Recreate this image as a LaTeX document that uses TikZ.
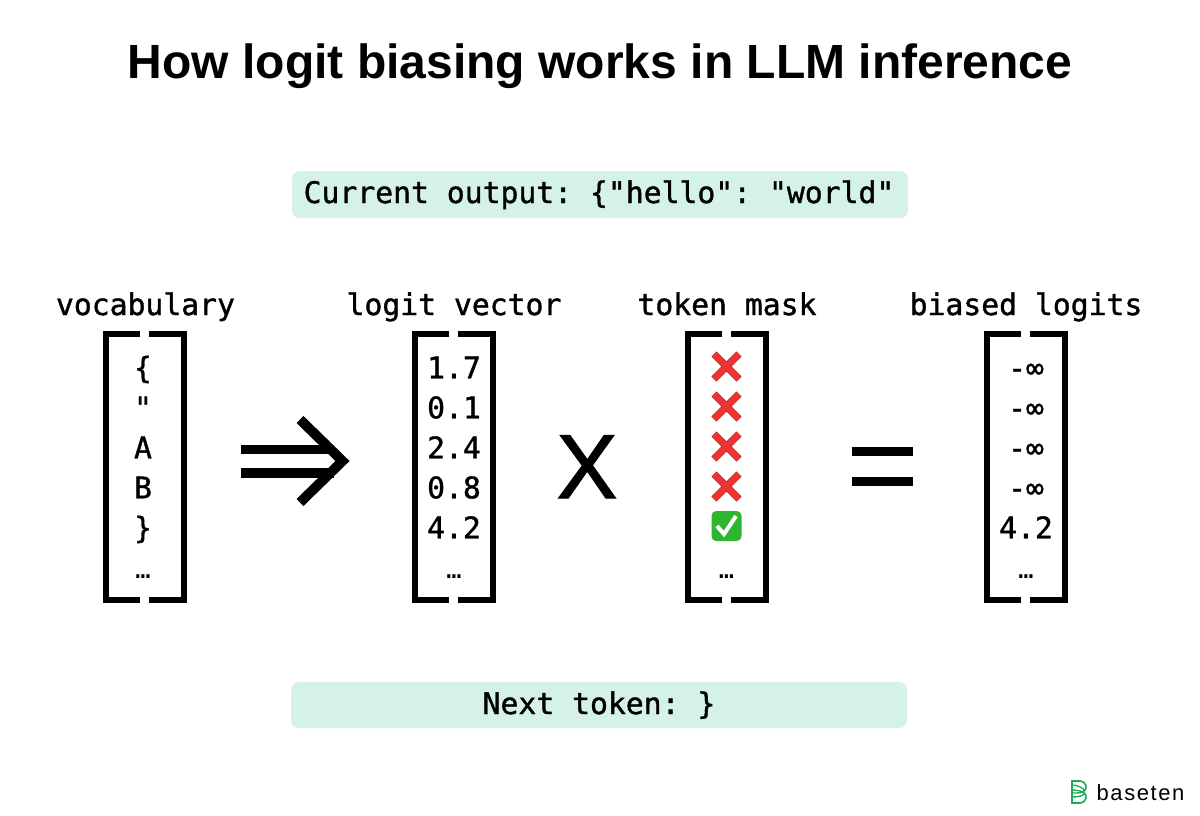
\documentclass[tikz,border=0pt]{standalone}
\usepackage{fontspec}
\setmainfont{Liberation Sans}
\newfontfamily\codefont{DejaVu Sans Mono}[FakeBold=1.2]
\newfontfamily\dotsfont{DejaVu Sans Mono}
\newfontfamily\timesfont{Liberation Sans}[FakeBold=1.5]
\newfontfamily\logofont{Liberation Sans}[LetterSpace=7]
\definecolor{mint}{HTML}{D5F2E6}
\definecolor{xred}{HTML}{F23232}
\definecolor{xdark}{HTML}{D42A2A}
\definecolor{okgreen}{HTML}{2FB52F}
\definecolor{logogreen}{HTML}{1FA855}
\tikzset{
  x=0.75pt,y=-0.75pt,
  code/.style={font=\frenchspacing\codefont\fontsize{22.3pt}{24pt}\selectfont,anchor=base,inner sep=0pt,text=black},
  dotrow/.style={font=\dotsfont\fontsize{19pt}{21pt}\selectfont,anchor=base,inner sep=0pt,text=black},
  band/.style={fill=mint,rounded corners=6pt,draw=none},
  bracketline/.style={draw=black,line width=4.5pt,line cap=butt,line join=miter},
  heavy/.style={draw=black,line width=7pt,line cap=butt,line join=miter},
}
\newcommand{\mybrackets}[1]{%
  \draw[bracketline] ({#1+37},334) -- ({#1+3},334) -- ({#1+3},600) -- ({#1+37},600);
  \draw[bracketline] ({#1+46},334) -- ({#1+81},334) -- ({#1+81},600) -- ({#1+46},600);
}
\newcommand{\crossmark}[2]{%
  \draw[xdark,line width=5.4pt,line cap=butt] ({#1-12.5},{#2-12.5}) -- ({#1+12.5},{#2+12.5}) ({#1-12.5},{#2+12.5}) -- ({#1+12.5},{#2-12.5});
  \draw[xred,line width=4.2pt,line cap=butt] ({#1-12.5},{#2-12.5}) -- ({#1+12.5},{#2+12.5}) ({#1-12.5},{#2+12.5}) -- ({#1+12.5},{#2-12.5});
}
\begin{document}
\begin{tikzpicture}
\useasboundingbox[fill=white] (0,0) rectangle (1200,815);
% title
\node[anchor=base,inner sep=0pt] (title) at (600,78.5) {\fontsize{36pt}{40pt}\selectfont\bfseries How logit biasing works in LLM inference};
% bands
\path[band] (292,171) rectangle (908,218);
\node[code] (current) at (599,203) {Current output: \{"hello": "world"};
\path[band] (291,682) rectangle (907,728);
\node[code] (next) at (599,714) {Next token: \}};
% headings
\node[code] (hvocab) at (145.5,315) {vocabulary};
\node[code] (hlogit) at (454,315) {logit vector};
\node[code] (hmask) at (727,315) {token mask};
\node[code] (hbias) at (1026,315) {biased logits};
% brackets
\mybrackets{103}
\mybrackets{412}
\mybrackets{685}
\mybrackets{984}
% vocabulary
\node[code] (v1) at (143,378.3) {\{};
\node[code] (v2) at (143,418.3) {"};
\node[code] (v3) at (143,458.3) {A};
\node[code] (v4) at (143,498.3) {B};
\node[code] (v5) at (143,538.3) {\}};
\node[dotrow] (v6) at (143,578.5) {…};
% logits
\node[code] (l1) at (454,378.3) {1.7};
\node[code] (l2) at (454,418.3) {0.1};
\node[code] (l3) at (454,458.3) {2.4};
\node[code] (l4) at (454,498.3) {0.8};
\node[code] (l5) at (454,538.3) {4.2};
\node[dotrow] (l6) at (454,578.5) {…};
% mask
\crossmark{726.5}{366.5}
\crossmark{726.5}{406.5}
\crossmark{726.5}{446.5}
\crossmark{726.5}{486.5}
\fill[okgreen,rounded corners=3.5pt] (711.5,511) rectangle (741.5,541);
\draw[white,line width=3pt,line join=miter] (717,526) -- (724,534) -- (736,516);
\node[dotrow] (m6) at (726.5,578.5) {…};
% biased
\node[code] (b1) at (1026,378.3) {-∞};
\node[code] (b2) at (1026,418.3) {-∞};
\node[code] (b3) at (1026,458.3) {-∞};
\node[code] (b4) at (1026,498.3) {-∞};
\node[code] (b5) at (1026,538.3) {4.2};
\node[dotrow] (b6) at (1026,578.5) {…};
% operators
\draw[heavy] (241,449.5) -- (334,449.5);
\draw[heavy] (241,473) -- (334,473);
\draw[black,line width=7.4pt,line join=miter,line cap=butt] (300,419.5) -- (342.5,461) -- (300,502.5);
\node[anchor=base,inner sep=0pt] (times) at (587,498) {\timesfont\fontsize{68pt}{70pt}\selectfont X};
\fill (852,447) rectangle (913,456);
\fill (852,477) rectangle (913,486);
% logo
\draw[logogreen,line width=1.2pt,line join=miter]
  (1072,781) -- (1080,781) .. controls (1087,782) and (1088,789) .. (1083,792)
  .. controls (1088,795) and (1087,802) .. (1080,803) -- (1072,803) -- cycle;
\draw[logogreen,line width=1pt]
  (1072,785) .. controls (1078,785) and (1083,788) .. (1085,791)
  (1072,790) .. controls (1076,790) and (1081,791) .. (1083,792)
  (1072,797) .. controls (1078,797) and (1083,796) .. (1085,793)
  (1072,793) .. controls (1076,793) and (1081,793) .. (1083,792);
\node[anchor=base,inner sep=0pt] (logo) at (1140.5,800) {\logofont\fontsize{16.5pt}{18pt}\selectfont baseten};
\end{tikzpicture}
\end{document}
